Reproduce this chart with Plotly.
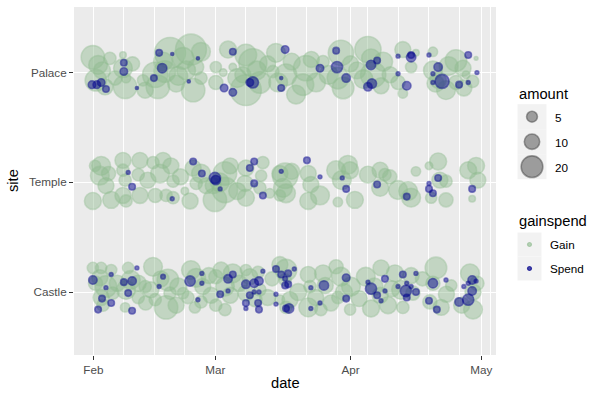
import pandas as pd
import plotly.graph_objects as go

START = pd.Timestamp("2023-02-01")
site_levels = ["Castle", "Temple", "Palace"]
month_ticks = ["2023-02-01", "2023-03-01", "2023-04-01", "2023-05-01"]
amount_breaks = [5, 10, 20]
group_labels = ["Gain", "Spend"]

# records: (days after 1 Feb incl. jitter, vertical jitter, amount)
palace_gain = [
    (-0.1, 0.14, 23.1), (1.1, 0.07, 14.8), (3.8, 0.13, 6.3), (0.6, -0.07, 19.6), (2.7, -0.13, 10.7),
    (6.8, 0.16, 1.8), (6.8, 0.04, 14.8), (7.3, -0.13, 23.1), (7.5, -0.05, 3.7), (11.4, -0.07, 5.3),
    (14.2, -0.02, 27.0), (14.8, -0.13, 23.1), (17.6, 0.18, 40.3), (16.4, 0.01, 19.6), (20.6, 0.13, 19.6),
    (22.4, 0.21, 40.3), (21.3, 0.02, 14.8), (22.9, -0.16, 23.1), (24.7, 0.19, 14.8), (24.7, -0.05, 6.3),
    (28.1, 0.05, 5.3), (29.8, 0.0, 2.4), (28.1, -0.09, 8.3), (30.9, 0.21, 12.0), (32.0, 0.05, 2.4),
    (35.0, 0.16, 19.6), (36.6, 0.09, 33.3), (34.3, -0.02, 10.7), (35.0, -0.16, 40.3), (38.2, -0.09, 19.6),
    (41.9, 0.18, 14.8), (41.2, 0.01, 6.3), (42.4, -0.09, 14.8), (44.2, -0.02, 19.6), (48.8, 0.04, 27.0),
    (48.1, -0.11, 19.6), (51.1, -0.09, 14.8), (52.7, 0.10, 6.3), (56.8, 0.18, 27.0), (56.1, -0.05, 19.6),
    (57.3, -0.14, 19.6), (63.0, 0.21, 29.0), (63.7, 0.13, 14.8), (64.2, -0.02, 27.0), (66.5, 0.10, 14.8),
    (68.1, -0.02, 10.7), (71.0, 0.21, 10.7), (72.9, 0.05, 5.3), (69.9, -0.09, 8.3), (71.0, -0.19, 3.7),
    (74.0, 0.18, 1.8), (77.9, 0.19, 3.7), (77.9, 0.02, 14.8), (79.1, -0.07, 10.7), (80.9, -0.16, 14.8),
    (83.2, 0.11, 19.6), (84.8, 0.04, 10.7), (83.2, -0.09, 8.3), (85.5, -0.02, 2.4), (87.8, 0.13, 0.6),
    (46.5, -0.20, 14.8), (11.9, -0.16, 10.7), (60.5, 0.02, 12.0), (19.0, -0.10, 12.0), (87.0, -0.08, 6.3),
    (2.0, 0.02, 12.0), (5.0, -0.05, 8.3), (9.0, 0.08, 8.3), (16.0, 0.10, 14.8), (19.5, -0.03, 14.8),
    (23.5, 0.05, 10.7), (33.0, -0.05, 14.8), (37.5, 0.02, 14.8), (40.0, 0.08, 10.7), (45.5, 0.10, 12.0),
    (50.0, 0.12, 10.7), (54.0, -0.02, 14.8), (59.0, 0.08, 10.7), (62.0, -0.06, 14.8), (66.0, -0.12, 10.7),
    (78.5, -0.10, 12.0), (81.5, 0.06, 14.8), (85.0, -0.14, 10.7),
]
palace_spend = [
    (-0.3, -0.11, 2.4), (0.8, -0.11, 2.4), (1.8, -0.09, 2.4), (2.9, -0.15, 1.8), (7.0, 0.09, 1.8),
    (7.0, 0.01, 2.4), (10.0, -0.14, 0.4), (15.1, 0.18, 1.8), (18.1, 0.17, 0.4), (15.8, 0.04, 3.7),
    (13.9, -0.05, 1.8), (21.9, -0.08, 0.4), (24.0, 0.13, 0.4), (32.0, 0.19, 1.8), (30.0, -0.14, 2.4),
    (32.0, -0.18, 2.4), (36.6, -0.09, 5.3), (35.9, -0.09, 2.4), (44.0, 0.21, 2.4), (43.1, -0.05, 0.4),
    (43.1, -0.14, 1.8), (52.0, 0.04, 2.4), (55.7, 0.20, 1.8), (55.9, 0.05, 5.3), (58.0, -0.05, 3.0),
    (63.7, 0.07, 3.7), (65.1, 0.11, 1.8), (63.9, -0.10, 3.7), (63.0, -0.13, 3.0), (69.9, 0.15, 0.6),
    (72.9, 0.14, 3.7), (72.9, 0.16, 1.8), (69.9, -0.01, 0.6), (71.9, -0.12, 3.0), (77.0, 0.16, 0.6),
    (79.1, 0.05, 3.0), (77.9, -0.01, 0.6), (80.0, -0.08, 8.3), (77.9, -0.09, 0.6), (83.9, -0.11, 1.8),
    (86.0, 0.16, 1.8), (86.0, -0.09, 0.6), (88.0, 0.0, 0.6),
]
temple_gain = [
    (0.4, 0.15, 5.3), (1.8, 0.15, 14.8), (1.5, 0.06, 14.8), (2.9, -0.03, 10.7), (-0.1, -0.17, 12.0),
    (4.1, -0.16, 12.0), (6.8, 0.20, 10.7), (6.8, 0.11, 6.3), (7.3, 0.02, 6.3), (6.8, -0.12, 10.7),
    (7.5, -0.17, 6.3), (10.7, 0.20, 10.7), (10.3, 0.07, 6.3), (10.7, -0.12, 10.7), (13.7, 0.18, 6.3),
    (16.0, 0.20, 10.7), (15.3, 0.08, 14.8), (17.8, 0.15, 10.7), (18.3, 0.01, 6.3), (14.2, -0.12, 8.3),
    (16.7, -0.12, 6.3), (18.3, -0.14, 6.3), (21.0, -0.08, 2.4), (22.2, -0.17, 10.7), (22.9, 0.13, 10.7),
    (24.7, 0.08, 14.8), (23.6, -0.01, 6.3), (25.9, -0.03, 10.7), (27.9, -0.16, 23.1), (30.2, 0.08, 23.1),
    (30.2, -0.07, 27.0), (31.4, 0.15, 10.7), (27.5, -0.03, 10.7), (35.0, 0.13, 10.7), (34.8, -0.01, 10.7),
    (35.0, -0.14, 12.0), (38.9, 0.18, 6.3), (38.5, 0.06, 5.3), (38.2, -0.05, 6.3), (40.5, -0.10, 3.7),
    (42.8, 0.08, 10.7), (43.5, -0.05, 14.8), (42.8, -0.12, 5.3), (44.0, 0.06, 27.0), (44.2, -0.10, 14.8),
    (49.3, 0.08, 10.7), (49.9, -0.02, 10.7), (49.3, -0.17, 12.0), (52.0, -0.12, 14.8), (55.7, 0.11, 14.8),
    (58.4, 0.16, 14.8), (58.9, 0.11, 12.0), (56.1, -0.18, 3.7), (60.0, -0.16, 12.0), (63.0, 0.07, 12.0),
    (65.8, 0.11, 10.7), (66.9, 0.07, 6.3), (65.8, -0.05, 12.0), (69.9, -0.07, 14.8), (72.9, -0.14, 14.8),
    (72.2, -0.08, 14.8), (74.0, 0.10, 3.7), (79.1, 0.19, 12.0), (77.0, 0.15, 2.4), (79.5, 0.02, 10.7),
    (80.9, 0.01, 6.3), (77.5, -0.14, 5.3), (80.9, -0.16, 8.3), (86.0, 0.11, 12.0), (87.8, 0.15, 12.0),
    (88.2, 0.02, 10.7), (86.9, -0.15, 1.8),
    (3.5, 0.08, 8.3), (12.5, 0.02, 10.7), (20.0, 0.05, 10.7), (29.0, 0.0, 14.8), (33.0, -0.08, 12.0),
    (45.5, 0.10, 10.7), (57.0, 0.02, 14.8), (68.0, 0.05, 8.3),
]
temple_spend = [
    (8.0, 0.09, 0.6), (8.9, -0.04, 1.8), (18.1, -0.15, 0.6), (22.9, 0.19, 1.8), (24.9, 0.08, 1.8),
    (27.9, 0.04, 5.3), (28.1, 0.02, 3.7), (29.1, -0.06, 0.6), (36.9, 0.19, 1.8), (35.9, 0.13, 1.8),
    (36.9, -0.01, 1.8), (38.9, -0.12, 1.8), (43.1, 0.10, 0.6), (49.0, 0.20, 1.8), (52.0, 0.05, 0.6),
    (57.1, 0.04, 0.6), (58.0, -0.06, 1.8), (65.1, -0.02, 1.8), (71.9, -0.13, 1.8), (77.0, -0.01, 0.6),
    (79.1, 0.04, 1.8), (77.0, -0.06, 1.8), (77.9, -0.10, 1.8), (86.9, -0.06, 1.8),
]
castle_gain = [
    (-0.1, 0.22, 5.3), (1.8, 0.22, 5.3), (4.1, 0.20, 5.3), (1.5, 0.13, 10.7), (2.9, 0.05, 19.6),
    (1.8, -0.05, 10.7), (2.2, -0.12, 6.3), (4.5, -0.01, 6.3), (8.0, 0.22, 5.3), (8.6, 0.11, 14.8),
    (7.5, 0.02, 14.8), (7.3, -0.14, 3.7), (10.3, 0.08, 10.7), (10.3, -0.05, 6.3), (11.9, 0.05, 6.3),
    (13.7, 0.23, 14.8), (13.2, 0.02, 10.7), (14.2, -0.07, 6.3), (17.1, 0.11, 19.6), (16.7, -0.14, 23.1),
    (17.6, -0.01, 6.3), (20.6, -0.01, 5.3), (22.4, 0.20, 14.8), (23.6, 0.13, 14.8), (21.7, -0.05, 6.3),
    (23.3, -0.14, 5.3), (25.1, 0.05, 10.7), (24.7, -0.09, 6.3), (28.1, 0.14, 8.3), (29.3, 0.20, 10.7),
    (32.0, 0.17, 14.8), (30.2, 0.05, 14.8), (28.1, -0.12, 6.3), (30.2, -0.16, 6.3), (31.4, -0.03, 10.7),
    (35.0, 0.20, 5.3), (35.9, 0.14, 10.7), (37.8, 0.18, 6.3), (35.0, -0.01, 10.7), (37.1, -0.07, 8.3),
    (38.2, 0.02, 6.3), (42.8, 0.25, 10.7), (44.0, 0.11, 6.3), (42.8, -0.07, 3.7), (44.2, -0.14, 6.3),
    (44.2, 0.20, 19.6), (45.1, -0.07, 10.7), (49.3, 0.16, 10.7), (49.7, 0.05, 6.3), (49.3, -0.14, 14.8),
    (52.7, 0.17, 12.0), (53.2, 0.06, 10.7), (52.2, -0.16, 6.3), (55.7, 0.23, 8.3), (56.8, 0.14, 14.8),
    (56.1, -0.05, 6.3), (58.9, -0.16, 5.3), (59.1, 0.05, 14.8), (62.5, 0.14, 14.8), (63.7, -0.15, 12.0),
    (66.0, 0.22, 10.7), (65.8, -0.03, 10.7), (69.2, 0.17, 12.0), (67.6, -0.12, 12.0), (70.6, 0.02, 14.8),
    (72.9, 0.15, 10.7), (73.3, -0.01, 8.3), (71.0, -0.14, 6.3), (78.6, 0.22, 19.6), (77.9, 0.08, 8.3),
    (77.2, -0.09, 8.3), (79.8, -0.14, 10.7), (82.1, 0.06, 5.3), (86.4, 0.17, 14.8), (87.1, 0.0, 10.7),
    (87.1, -0.16, 14.8), (19.0, -0.12, 10.7), (61.0, -0.06, 10.7),
    (0.5, 0.08, 8.3), (5.5, 0.08, 10.7), (12.0, -0.10, 8.3), (15.5, 0.12, 10.7), (19.5, 0.05, 12.0),
    (26.5, 0.15, 10.7), (27.0, -0.03, 10.7), (33.5, 0.08, 10.7), (40.0, -0.05, 10.7), (41.0, 0.12, 8.3),
    (47.0, 0.0, 12.0), (51.0, -0.05, 10.7), (54.5, -0.10, 10.7), (57.5, 0.0, 12.0), (64.5, 0.05, 12.0),
    (68.5, 0.03, 10.7), (75.5, 0.12, 8.3), (81.0, -0.02, 10.7), (84.5, -0.12, 10.7), (88.0, 0.08, 8.3),
]
castle_spend = [
    (-0.1, 0.11, 3.0), (4.1, 0.16, 0.6), (2.9, 0.04, 0.6), (2.0, -0.06, 1.8), (4.1, -0.10, 1.8),
    (1.1, -0.16, 1.8), (7.0, 0.09, 1.8), (8.9, 0.10, 3.0), (10.0, 0.22, 0.6), (8.0, -0.01, 1.8),
    (8.9, -0.17, 1.8), (16.0, 0.14, 0.9), (15.1, 0.05, 0.6), (22.2, 0.10, 4.5), (24.9, 0.17, 0.6),
    (24.9, 0.08, 0.6), (24.0, -0.07, 0.6), (30.9, 0.12, 3.0), (32.0, 0.16, 1.8), (30.9, 0.01, 0.6),
    (29.1, -0.02, 1.8), (35.0, 0.07, 3.0), (36.9, 0.08, 3.0), (38.0, 0.10, 3.0), (35.9, -0.03, 1.8),
    (38.0, 0.0, 0.6), (36.9, 0.0, 0.6), (35.0, -0.10, 1.8), (37.8, -0.10, 1.8), (38.0, -0.16, 1.8),
    (35.0, -0.15, 0.6), (38.9, 0.19, 0.6), (41.9, 0.21, 1.8), (43.1, 0.16, 1.8), (44.0, 0.06, 1.8),
    (41.9, -0.02, 0.6), (41.9, -0.11, 0.6), (44.2, -0.15, 1.8), (44.7, 0.17, 1.8), (46.1, 0.21, 0.6),
    (44.0, 0.12, 0.9), (44.7, 0.07, 1.8), (44.9, -0.15, 3.7), (49.9, 0.04, 0.6), (49.9, -0.15, 0.6),
    (52.0, -0.10, 0.6), (52.9, 0.06, 3.7), (58.0, 0.13, 2.4), (58.0, -0.06, 1.8), (63.0, 0.09, 0.6),
    (63.7, 0.03, 5.3), (65.1, -0.03, 1.8), (66.0, -0.08, 0.6), (66.9, 0.12, 1.8), (66.9, 0.01, 0.6),
    (69.9, 0.05, 0.6), (71.0, 0.16, 1.8), (71.7, 0.01, 5.3), (71.9, 0.08, 0.6), (72.9, 0.05, 0.6),
    (71.9, -0.05, 1.8), (74.0, 0.0, 1.8), (74.0, 0.17, 0.6), (77.0, -0.08, 1.8), (77.9, 0.08, 3.7),
    (78.8, -0.16, 1.8), (80.9, 0.11, 0.6), (83.9, -0.09, 3.0), (86.0, -0.07, 5.3), (86.9, 0.11, 3.0),
    (86.9, 0.01, 3.0), (85.0, 0.05, 0.6), (86.0, 0.08, 0.6), (87.8, 0.10, 0.6),
]

GROUP_RGB = {"Gain": (143, 188, 143), "Spend": (0, 0, 139)}
GROUP_ALPHA = {"Gain": 0.62, "Spend": 0.7}
SIZEREF = 0.085
LINE_W = 1.6
FONT = "Liberation Sans, Arial, sans-serif"


def rgba(rgb, a):
    return "rgba(%d,%d,%d,%.2f)" % (rgb[0], rgb[1], rgb[2], a)


rows = []
for site, grp, recs in [
    ("Palace", "Gain", palace_gain), ("Temple", "Gain", temple_gain), ("Castle", "Gain", castle_gain),
    ("Palace", "Spend", palace_spend), ("Temple", "Spend", temple_spend), ("Castle", "Spend", castle_spend),
]:
    for day, jit, amt in recs:
        rows.append({
            "date": START + pd.Timedelta(days=day),
            "y": site_levels.index(site) + 1 + jit,
            "amount": amt,
            "gainspend": grp,
        })
df = pd.DataFrame(rows)

fig = go.Figure()

# panel background
fig.add_shape(type="rect", xref="x domain", yref="y domain", x0=0, x1=1, y0=0, y1=1,
              fillcolor="#EBEBEB", line_width=0, layer="below")

for grp in group_labels:
    sub = df[df["gainspend"] == grp]
    col = rgba(GROUP_RGB[grp], GROUP_ALPHA[grp])
    fig.add_trace(go.Scatter(
        x=sub["date"], y=sub["y"], mode="markers", name=grp,
        marker=dict(size=sub["amount"], sizemode="area", sizeref=SIZEREF, sizemin=0,
                    color=col, line=dict(color=col, width=LINE_W)),
        hoverinfo="skip", showlegend=False,
    ))

# ---- legends (drawn on a pixel-like helper axis) ----
amount_key_y = [116.7, 141.7, 166.7]
for yy in amount_key_y:
    fig.add_shape(type="rect", xref="x2", yref="y2", x0=517.5, x1=546.5,
                  y0=yy - 12.5, y1=yy + 12.5, fillcolor="#F2F2F2", line_width=0, layer="below")
fig.add_trace(go.Scatter(
    x=[532] * len(amount_breaks), y=amount_key_y, xaxis="x2", yaxis="y2", mode="markers",
    marker=dict(size=amount_breaks, sizemode="area", sizeref=SIZEREF,
                color="rgba(0,0,0,0.5)", line=dict(color="rgba(0,0,0,0.5)", width=LINE_W)),
    hoverinfo="skip", showlegend=False,
))
group_key_y = [244.5, 268.5]
for yy in group_key_y:
    fig.add_shape(type="rect", xref="x2", yref="y2", x0=517.5, x1=541.5,
                  y0=yy - 12, y1=yy + 12, fillcolor="#F2F2F2", line_width=0, layer="below")
key_cols = [rgba(GROUP_RGB[g], GROUP_ALPHA[g]) for g in group_labels]
fig.add_trace(go.Scatter(
    x=[529.5] * len(group_labels), y=group_key_y, xaxis="x2", yaxis="y2", mode="markers",
    marker=dict(size=4, color=key_cols, line=dict(color=key_cols, width=1.2)),
    hoverinfo="skip", showlegend=False,
))

ann = []
ann.append(dict(text="amount", x=517, y=94, xref="x2", yref="y2", xanchor="left", yanchor="middle",
                showarrow=False, font=dict(size=14.7, color="black", family=FONT)))
for b, yy in zip(amount_breaks, amount_key_y):
    ann.append(dict(text=str(b), x=553, y=yy + 1, xref="x2", yref="y2", xanchor="left",
                    yanchor="middle", showarrow=False, font=dict(size=11.7, color="black", family=FONT)))
ann.append(dict(text="gainspend", x=517, y=221, xref="x2", yref="y2", xanchor="left", yanchor="middle",
                showarrow=False, font=dict(size=14.7, color="black", family=FONT)))
for g, yy in zip(group_labels, group_key_y):
    ann.append(dict(text=g, x=547.5, y=yy, xref="x2", yref="y2", xanchor="left",
                    yanchor="middle", showarrow=False, font=dict(size=11.7, color="black", family=FONT)))
# axis titles
ann.append(dict(text="date", x=285 / 600, y=(400 - 383) / 400, xref="paper", yref="paper",
                xanchor="center", yanchor="middle", showarrow=False,
                font=dict(size=14.7, color="black", family=FONT)))
ann.append(dict(text="site", x=13 / 600, y=(400 - 181) / 400, xref="paper", yref="paper",
                xanchor="center", yanchor="middle", showarrow=False, textangle=-90,
                font=dict(size=14.7, color="black", family=FONT)))

x_lo = START - pd.Timedelta(days=4.43)
x_hi = START + pd.Timedelta(days=92.37)

fig.update_layout(
    width=600, height=400, margin=dict(l=0, r=0, t=0, b=0),
    paper_bgcolor="white", plot_bgcolor="rgba(0,0,0,0)", showlegend=False,
    font=dict(family=FONT),
    annotations=ann,
    xaxis=dict(
        domain=[74 / 600, 496 / 600], type="date", range=[x_lo, x_hi],
        tickvals=month_ticks, tickformat="%b",
        showgrid=True, gridcolor="white", gridwidth=1.1, zeroline=False, showline=False,
        ticks="outside", ticklen=4, tickwidth=1.1, tickcolor="#333333",
        tickfont=dict(size=11.7, color="#4D4D4D", family=FONT),
        minor=dict(dtick=7 * 86400000, tick0="2023-02-01", showgrid=True,
                   gridcolor="white", gridwidth=0.55, ticks=""),
        fixedrange=True,
    ),
    yaxis=dict(
        domain=[(400 - 355) / 400, (400 - 7) / 400], range=[0.426, 3.598],
        tickvals=[1, 2, 3], ticktext=site_levels,
        showgrid=True, gridcolor="white", gridwidth=1.1, zeroline=False, showline=False,
        ticks="outside", ticklen=4, tickwidth=1.1, tickcolor="#333333",
        tickfont=dict(size=11.7, color="#4D4D4D", family=FONT),
        fixedrange=True,
    ),
    xaxis2=dict(domain=[501 / 600, 1], range=[501, 600], visible=False, fixedrange=True),
    yaxis2=dict(domain=[0, 1], range=[400, 0], visible=False, fixedrange=True, anchor="x2"),
)

fig.write_html("out.html", config={"displayModeBar": False},
               post_script="document.body.style.margin='0px';")
